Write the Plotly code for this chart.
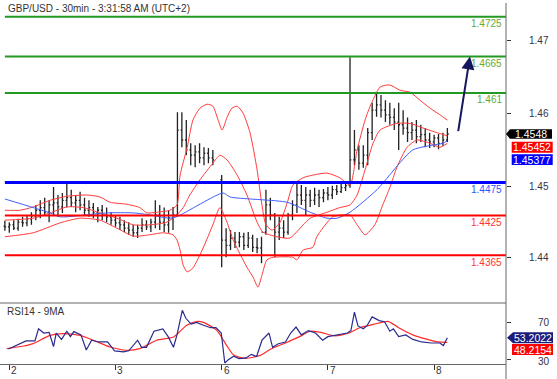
import plotly.graph_objects as go

TITLE = "GBP/USD - 30min - 3:31:58 AM (UTC+2)"
RSI_TITLE = "RSI14 - 9MA"

# ---------------- data (x = hours since start of day "2") ----------------
bar_hour = list(range(-1, 47)) + list(range(48, 100))
bar_open = [1.4409, 1.4408, 1.4411, 1.4406, 1.4415, 1.4414, 1.4420, 1.4424, 1.4433, 1.4437,
            1.4430, 1.4441, 1.4444, 1.4438, 1.4448, 1.4452, 1.4444, 1.4448, 1.4441, 1.4433,
            1.4437, 1.4429, 1.4433, 1.4426, 1.4423, 1.4418, 1.4414, 1.4411, 1.4406, 1.4403,
            1.4399, 1.4406, 1.4411, 1.4408, 1.4415, 1.4426, 1.4415, 1.4411, 1.4421, 1.4426,
            1.4554, 1.4539, 1.4524, 1.4516, 1.4521, 1.4512, 1.4519, 1.4512,
            1.4479, 1.4388, 1.4380, 1.4391, 1.4385, 1.4393, 1.4380, 1.4391, 1.4377, 1.4376,
            1.4400, 1.4441, 1.4426, 1.4400, 1.4406, 1.4400, 1.4426, 1.4441, 1.4456, 1.4448,
            1.4456, 1.4448, 1.4456, 1.4452, 1.4459, 1.4456, 1.4464, 1.4461, 1.4467, 1.4470,
            1.4509, 1.4524, 1.4504, 1.4516, 1.4550, 1.4584, 1.4592, 1.4584, 1.4577, 1.4573,
            1.4566, 1.4562, 1.4557, 1.4550, 1.4554, 1.4544, 1.4547, 1.4539, 1.4536, 1.4542,
            1.4534, 1.4539]
bar_high = [1.4417, 1.4415, 1.4418, 1.4420, 1.4423, 1.4426, 1.4430, 1.4441, 1.4448, 1.4452,
            1.4448, 1.4468, 1.4456, 1.4459, 1.4474, 1.4464, 1.4456, 1.4461, 1.4452, 1.4448,
            1.4444, 1.4438, 1.4441, 1.4437, 1.4430, 1.4426, 1.4423, 1.4418, 1.4415, 1.4411,
            1.4411, 1.4421, 1.4418, 1.4420, 1.4448, 1.4441, 1.4437, 1.4433, 1.4438, 1.4581,
            1.4581, 1.4569, 1.4534, 1.4531, 1.4534, 1.4528, 1.4527, 1.4524,
            1.4486, 1.4406, 1.4403, 1.4400, 1.4400, 1.4399, 1.4400, 1.4396, 1.4391, 1.4393,
            1.4464, 1.4452, 1.4429, 1.4423, 1.4418, 1.4429, 1.4448, 1.4474, 1.4471, 1.4468,
            1.4464, 1.4467, 1.4464, 1.4465, 1.4468, 1.4470, 1.4471, 1.4474, 1.4476, 1.4664,
            1.4554, 1.4531, 1.4531, 1.4557, 1.4595, 1.4611, 1.4607, 1.4599, 1.4595, 1.4587,
            1.4595, 1.4584, 1.4573, 1.4566, 1.4569, 1.4562, 1.4557, 1.4550, 1.4547, 1.4548,
            1.4550, 1.4557]
bar_low = [1.4402, 1.4399, 1.4403, 1.4402, 1.4408, 1.4409, 1.4411, 1.4418, 1.4421, 1.4426,
           1.4415, 1.4426, 1.4423, 1.4429, 1.4437, 1.4438, 1.4430, 1.4433, 1.4426, 1.4423,
           1.4421, 1.4415, 1.4418, 1.4415, 1.4411, 1.4408, 1.4403, 1.4400, 1.4396, 1.4393,
           1.4391, 1.4400, 1.4403, 1.4400, 1.4406, 1.4403, 1.4400, 1.4399, 1.4403, 1.4423,
           1.4528, 1.4516, 1.4501, 1.4498, 1.4504, 1.4501, 1.4504, 1.4501,
           1.4347, 1.4362, 1.4373, 1.4376, 1.4377, 1.4373, 1.4376, 1.4370, 1.4368, 1.4353,
           1.4396, 1.4418, 1.4362, 1.4388, 1.4391, 1.4396, 1.4418, 1.4429, 1.4441, 1.4426,
           1.4438, 1.4441, 1.4438, 1.4445, 1.4448, 1.4450, 1.4456, 1.4459, 1.4462, 1.4467,
           1.4501, 1.4494, 1.4497, 1.4501, 1.4539, 1.4574, 1.4573, 1.4566, 1.4562, 1.4554,
           1.4524, 1.4547, 1.4536, 1.4539, 1.4534, 1.4536, 1.4528, 1.4527, 1.4528, 1.4525,
           1.4530, 1.4536]
bar_close = [1.4408, 1.4411, 1.4406, 1.4415, 1.4414, 1.4420, 1.4424, 1.4433, 1.4437, 1.4430,
             1.4441, 1.4444, 1.4438, 1.4448, 1.4452, 1.4444, 1.4448, 1.4441, 1.4433, 1.4437,
             1.4429, 1.4433, 1.4426, 1.4423, 1.4418, 1.4414, 1.4411, 1.4406, 1.4403, 1.4399,
             1.4406, 1.4411, 1.4408, 1.4415, 1.4426, 1.4415, 1.4411, 1.4421, 1.4426, 1.4554,
             1.4539, 1.4524, 1.4516, 1.4521, 1.4512, 1.4519, 1.4512, 1.4509,
             1.4388, 1.4380, 1.4391, 1.4385, 1.4393, 1.4380, 1.4391, 1.4377, 1.4376, 1.4400,
             1.4441, 1.4426, 1.4400, 1.4406, 1.4400, 1.4426, 1.4441, 1.4456, 1.4448, 1.4456,
             1.4448, 1.4456, 1.4452, 1.4459, 1.4456, 1.4464, 1.4461, 1.4467, 1.4470, 1.4509,
             1.4524, 1.4504, 1.4516, 1.4550, 1.4584, 1.4592, 1.4584, 1.4577, 1.4573, 1.4566,
             1.4562, 1.4557, 1.4550, 1.4554, 1.4544, 1.4547, 1.4539, 1.4536, 1.4542, 1.4534,
             1.4539, 1.4548]

bb_upper_hour = [-1, 2.4, 5.4, 9.2, 13.0, 17.6, 20.5, 22.8, 26.6, 29.5,
                 31.1, 33.4, 36.3, 37.9, 38.6, 40.2, 41.5, 43.1, 44.7, 46.0,
                 47.2, 48.1, 49.2, 50.3, 51.5, 52.8, 54.4, 56.0, 57.1, 58.0,
                 59.4, 61.2, 62.8, 64.1, 66.4, 68.6, 71.8, 74.7, 77.0, 78.6,
                 80.4, 81.5, 83.8, 86.0, 88.3, 90.6, 92.8, 95.1, 97.3, 99]
bb_upper = [1.4433, 1.4433, 1.4438, 1.4448, 1.4454, 1.4456, 1.4453, 1.4445, 1.4442, 1.4437,
            1.4429, 1.4430, 1.4433, 1.4441, 1.4486, 1.4528, 1.4569, 1.4587, 1.4593, 1.4590,
            1.4569, 1.4554, 1.4573, 1.4587, 1.4590, 1.4580, 1.4550, 1.4494, 1.4441, 1.4411,
            1.4403, 1.4415, 1.4444, 1.4471, 1.4482, 1.4486, 1.4489, 1.4482, 1.4471, 1.4524,
            1.4569, 1.4589, 1.4619, 1.4622, 1.4614, 1.4611, 1.4599, 1.4587, 1.4577, 1.4569]
bb_mid_hour = [-1, 5.4, 9.2, 13.0, 16.7, 20.5, 24.3, 28.0, 31.8, 35.6,
               37.9, 39.3, 40.8, 43.1, 46.0, 47.6, 49.2, 51.5, 53.7, 56.0,
               57.3, 60.5, 63.4, 66.4, 68.0, 71.8, 74.7, 77.0, 78.6, 80.4,
               82.2, 83.8, 87.6, 90.6, 93.5, 96.7, 99]
bb_mid = [1.4418, 1.4421, 1.4429, 1.4438, 1.4437, 1.4429, 1.4421, 1.4411, 1.4411, 1.4415,
          1.4426, 1.4437, 1.4456, 1.4479, 1.4504, 1.4516, 1.4509, 1.4486, 1.4456, 1.4415,
          1.4400, 1.4393, 1.4391, 1.4411, 1.4421, 1.4430, 1.4437, 1.4441, 1.4456, 1.4494,
          1.4534, 1.4554, 1.4564, 1.4564, 1.4557, 1.4550, 1.45452]
bb_lower_hour = [-1, 5.4, 11.5, 16.0, 20.5, 24.3, 28.0, 31.8, 34.7, 37.0,
                 37.9, 38.6, 39.3, 40.2, 41.5, 43.8, 46.0, 47.6, 49.2, 50.6,
                 53.7, 55.1, 56.2, 57.1, 58.2, 59.6, 64.1, 65.0, 66.4, 68.6,
                 69.5, 73.1, 77.0, 78.6, 80.4, 82.6, 84.4, 86.0, 87.6, 89.9,
                 92.1, 95.1, 97.3, 99]
bb_lower = [1.4393, 1.4399, 1.4414, 1.4421, 1.4418, 1.4406, 1.4394, 1.4396, 1.4399, 1.4396,
            1.4388, 1.4373, 1.4350, 1.4340, 1.4346, 1.4376, 1.4411, 1.4437, 1.4415, 1.4388,
            1.4347, 1.4332, 1.4317, 1.4335, 1.4358, 1.4362, 1.4362, 1.4358, 1.4373, 1.4377,
            1.4393, 1.4423, 1.4426, 1.4411, 1.4396, 1.4411, 1.4441, 1.4467, 1.4498, 1.4528,
            1.4539, 1.4534, 1.4528, 1.4534]

ma_hour = [-1, 9.2, 11.5, 22.1, 28.0, 31.8, 36.3, 38.1, 48.3, 49.9,
           62.8, 68.0, 71.8, 74.1, 77.0, 83.1, 91.2, 98.0, 99]
ma_val = [1.4450, 1.4429, 1.4423, 1.4429, 1.4429, 1.4426, 1.4421, 1.4424, 1.4459, 1.4453,
          1.4445, 1.4430, 1.4421, 1.4421, 1.4430, 1.4464, 1.4524, 1.4534, 1.45377]

rsi_hour = [-0.2, 1.4, 2.2, 3.8, 5.8, 6.6, 7.8, 9.0, 10.0, 10.6,
            11.8, 13.0, 13.8, 14.6, 16.2, 17.4, 18.6, 20.2, 22.2, 23.8,
            25.8, 27.0, 29.0, 29.9, 31.0, 32.7, 34.7, 35.9, 37.1, 37.9,
            39.1, 39.9, 41.1, 42.3, 43.9, 45.5, 46.7, 47.9, 48.7, 49.5,
            50.7, 51.9, 53.5, 54.7, 55.9, 57.1, 58.7, 59.5, 60.8, 62.4,
            63.6, 64.8, 66.0, 67.6, 69.2, 70.8, 72.0, 74.4, 76.4, 77.2,
            78.0, 78.8, 80.0, 80.8, 82.0, 83.6, 84.8, 86.0, 86.8, 88.0,
            89.6, 91.2, 93.2, 95.3, 97.3, 98.1, 98.6, 99.0]
rsi_val = [41.0, 44.8, 46.7, 49.8, 49.8, 62.7, 58.2, 58.9, 43.7, 58.2,
           51.3, 60.1, 54.3, 59.7, 56.2, 39.9, 50.5, 48.6, 48.6, 39.1,
           38.0, 39.1, 50.5, 42.9, 42.9, 60.1, 62.7, 54.3, 42.9, 56.2,
           82.5, 74.0, 67.7, 69.6, 66.5, 63.9, 63.9, 58.2, 26.0, 29.6,
           33.4, 30.7, 31.5, 35.3, 33.0, 50.5, 58.2, 42.9, 46.7, 48.6,
           58.2, 64.6, 56.2, 60.8, 58.2, 50.5, 54.3, 56.2, 58.2, 60.8,
           80.5, 65.8, 62.7, 65.8, 75.5, 71.5, 70.3, 60.1, 62.7, 54.3,
           56.2, 51.3, 48.6, 47.5, 47.5, 44.8, 50.0, 53.2022]
rsi_ma_hour = [-0.6, 3.0, 5.4, 9.2, 12.2, 16.0, 19.0, 22.8, 26.5, 29.5,
               33.3, 37.1, 40.1, 42.3, 43.9, 46.9, 49.1, 50.6, 52.1, 53.5,
               56.7, 59.1, 62.4, 65.6, 68.0, 70.4, 73.6, 76.8, 79.2, 82.4,
               85.6, 88.0, 91.2, 94.5, 96.9, 99.0]
rsi_ma_val = [41.5, 44.0, 46.8, 55.7, 57.5, 55.7, 50.4, 43.2, 39.7, 41.5,
              50.4, 53.9, 66.5, 70.5, 69.6, 61.0, 45.0, 35.0, 32.0, 31.0,
              34.2, 41.0, 47.5, 54.3, 60.1, 58.9, 55.1, 58.2, 63.9, 67.7,
              70.7, 63.9, 56.2, 51.3, 48.6, 48.2154]

level_values = [1.4725, 1.4665, 1.461, 1.4475, 1.4425, 1.4365]
level_labels = ["1.4725", "1.4665", "1.461", "1.4475", "1.4425", "1.4365"]
level_kind = ["target", "target", "target", "pivot", "support", "support"]

price_tick_labels = ["1.44", "1.45", "1.46", "1.47"]
price_tick_vals = [1.43614, 1.44685, 1.45793, 1.46888]   # where the chart prints them
rsi_tick_vals = [30, 70]
day_hours = [0, 24, 48, 72, 96]
day_labels = ["2", "3", "6", "7", "8"]

last_close = 1.4548
last_bb_mid = 1.45452
last_ma = 1.45377
last_rsi = 53.2022
last_rsi_ma = 48.2154
arrow_from = (101.4, 1.4550)
arrow_to = (104.1, 1.4665)

# ---------------- layout geometry ----------------
W, H = 557, 379
ML, MR, MT, MB = 0, 51, 2, 15
PW, PH = W - ML - MR, H - MT - MB
SPLIT = 61 / PH
PRICE_RANGE = [1.429304, 1.474718]
RSI_RANGE = [24.96, 90.4]
X_RANGE = [-2.1, 112.25]
FONT = "Liberation Sans, Arial, sans-serif"

STYLE = {
    "target": dict(color="#229922", width=2, text="#66aa33"),
    "pivot": dict(color="#0000ff", width=3, text="#3355ff"),
    "support": dict(color="#ff0000", width=2, text="#ff3333"),
}


def py(v):
    return SPLIT + (v - PRICE_RANGE[0]) / (PRICE_RANGE[1] - PRICE_RANGE[0]) * (1 - SPLIT)


def ry(v):
    return (v - RSI_RANGE[0]) / (RSI_RANGE[1] - RSI_RANGE[0]) * SPLIT


def pxx(p):
    return p / PW


def pxy(p):
    return p / PH


fig = go.Figure()

fig.add_trace(go.Ohlc(
    x=bar_hour, open=bar_open, high=bar_high, low=bar_low, close=bar_close,
    increasing=dict(line=dict(color="#222222", width=1.3)),
    decreasing=dict(line=dict(color="#222222", width=1.3)),
    tickwidth=0.3, xaxis="x", yaxis="y", showlegend=False, hoverinfo="skip"))

for hx, hy in [(bb_upper_hour, bb_upper), (bb_mid_hour, bb_mid), (bb_lower_hour, bb_lower)]:
    fig.add_trace(go.Scatter(x=hx, y=hy, mode="lines",
                             line=dict(color="#ff3b3b", width=1, shape="spline", smoothing=0.6),
                             xaxis="x", yaxis="y", showlegend=False, hoverinfo="skip"))
fig.add_trace(go.Scatter(x=ma_hour, y=ma_val, mode="lines",
                         line=dict(color="#3f5fff", width=1, shape="spline", smoothing=0.6),
                         xaxis="x", yaxis="y", showlegend=False, hoverinfo="skip"))

fig.add_trace(go.Scatter(x=rsi_ma_hour, y=rsi_ma_val, mode="lines",
                         line=dict(color="#ff2a2a", width=1.2, shape="spline", smoothing=0.6),
                         xaxis="x2", yaxis="y2", showlegend=False, hoverinfo="skip"))
fig.add_trace(go.Scatter(x=rsi_hour, y=rsi_val, mode="lines",
                         line=dict(color="#2b2b8f", width=1.2),
                         xaxis="x2", yaxis="y2", showlegend=False, hoverinfo="skip"))

shapes = []
annotations = []

# horizontal levels
for v, lab, kind in zip(level_values, level_labels, level_kind):
    st = STYLE[kind]
    shapes.append(dict(type="line", xref="x", yref="y", x0=-1, x1=X_RANGE[1], y0=v, y1=v,
                       line=dict(color=st["color"], width=st["width"])))
    annotations.append(dict(xref="paper", yref="y", x=pxx(504), y=v, yshift=-7,
                            xanchor="right", yanchor="middle", text=lab, showarrow=False,
                            font=dict(family=FONT, size=10, color=st["text"])))

# panel frame lines
shapes.append(dict(type="line", xref="paper", yref="paper", x0=0, x1=1, y0=SPLIT, y1=SPLIT,
                   line=dict(color="#666666", width=1)))
shapes.append(dict(type="line", xref="paper", yref="paper", x0=1, x1=1, y0=-pxy(MB), y1=1 - pxy(1),
                   line=dict(color="#666666", width=1)))


# price tags
def tag(x0p, x1p, yc, hh, color, pointed, tip):
    if pointed:
        path = (f"M {pxx(tip)},{yc} L {pxx(x0p)},{yc + hh} L {pxx(x1p)},{yc + hh} "
                f"L {pxx(x1p)},{yc - hh} L {pxx(x0p)},{yc - hh} Z")
        shapes.append(dict(type="path", xref="paper", yref="paper", path=path,
                           fillcolor=color, line=dict(width=0)))
    else:
        shapes.append(dict(type="rect", xref="paper", yref="paper", x0=pxx(x0p), x1=pxx(x1p),
                           y0=yc - hh, y1=yc + hh, fillcolor=color, line=dict(width=0)))


def tag_text(text, xc, yc):
    annotations.append(dict(xref="paper", yref="paper", x=pxx(xc), y=yc, xanchor="center",
                            yanchor="middle", text=text, showarrow=False,
                            font=dict(family=FONT, size=10.5, color="white")))


# axis labels (right aligned like the source); drawn before the tags so tags cover them
for v, lab in zip(price_tick_vals, price_tick_labels):
    annotations.append(dict(xref="paper", yref="y", x=pxx(551), y=v, xanchor="right",
                            yanchor="middle", text=lab, showarrow=False,
                            font=dict(family=FONT, size=10, color="#333344")))
for v in rsi_tick_vals:
    annotations.append(dict(xref="paper", yref="y2", x=pxx(552), y=v, xanchor="right",
                            yanchor="middle", yshift=-2 if v == 30 else 0, text=str(v),
                            showarrow=False, font=dict(family=FONT, size=10, color="#333344")))
for h, lab in zip(day_hours, day_labels):
    annotations.append(dict(xref="x2", yref="paper", x=h, y=-pxy(6), xanchor="left",
                            yanchor="middle", xshift=0, text=lab, showarrow=False,
                            font=dict(family=FONT, size=10, color="#333333")))

yc = py(last_close)
tag(510, 552, yc, pxy(4.8), "#000000", True, 506)
tag_text(f"{last_close:.4f}", 531, yc)
yc = py(last_bb_mid) - pxy(11.3)
tag(511.7, 552.7, yc, pxy(5.5), "#ff0000", False, 0)
tag_text(f"{last_bb_mid:.5f}", 532, yc)
yc = py(last_ma) - pxy(18.8)
tag(511.7, 552.7, yc, pxy(5.4), "#0000ff", False, 0)
tag_text(f"{last_ma:.5f}", 532, yc)
yc = ry(last_rsi)
tag(513, 553, yc, pxy(5.5), "#1c1c7a", True, 507)
tag_text(f"{last_rsi:.4f}", 533, yc)
yc = ry(last_rsi_ma) - pxy(7.2)
tag(512, 553, yc, pxy(5.5), "#ff0000", False, 0)
tag_text(f"{last_rsi_ma:.4f}", 532.5, yc)

annotations.append(dict(xref="paper", yref="paper", x=pxx(6), y=1 - pxy(6.5), xanchor="left",
                        yanchor="middle", text=TITLE, showarrow=False,
                        font=dict(family=FONT, size=10, color="#333333")))
annotations.append(dict(xref="paper", yref="paper", x=pxx(5), y=SPLIT - pxy(8), xanchor="left",
                        yanchor="middle", text=RSI_TITLE, showarrow=False,
                        font=dict(family=FONT, size=10, color="#333333")))

annotations.append(dict(xref="x", yref="y", axref="x", ayref="y",
                        x=arrow_to[0], y=arrow_to[1], ax=arrow_from[0], ay=arrow_from[1],
                        text="", showarrow=True, arrowhead=2, arrowsize=1.3, arrowwidth=2,
                        arrowcolor="#16165e"))

fig.update_layout(
    width=W, height=H, margin=dict(l=ML, r=MR, t=MT, b=MB),
    paper_bgcolor="white", plot_bgcolor="white", showlegend=False,
    font=dict(family=FONT, size=10, color="#333333"),
    xaxis=dict(domain=[0, 1], range=X_RANGE, anchor="y", visible=False,
               rangeslider=dict(visible=False), fixedrange=True),
    yaxis=dict(domain=[SPLIT, 1], range=PRICE_RANGE, side="right", anchor="x",
               showgrid=False, zeroline=False, showline=False, ticks="outside",
               tickvals=price_tick_vals, ticklen=4, tickcolor="#333333",
               showticklabels=False),
    xaxis2=dict(domain=[0, 1], range=X_RANGE, anchor="y2", showgrid=False, zeroline=False,
                showline=True, linecolor="#666666", linewidth=1, ticks="outside",
                tickvals=day_hours, ticklen=5, tickcolor="#333333", showticklabels=False),
    yaxis2=dict(domain=[0, SPLIT], range=RSI_RANGE, side="right", anchor="x2",
                showgrid=False, zeroline=False, showline=False, ticks="outside",
                tickvals=rsi_tick_vals, ticklen=4, tickcolor="#333333", showticklabels=False),
    shapes=shapes, annotations=annotations,
)

fig.write_html("out.html", config={"displayModeBar": False},
               post_script="document.body.style.margin='0';")
